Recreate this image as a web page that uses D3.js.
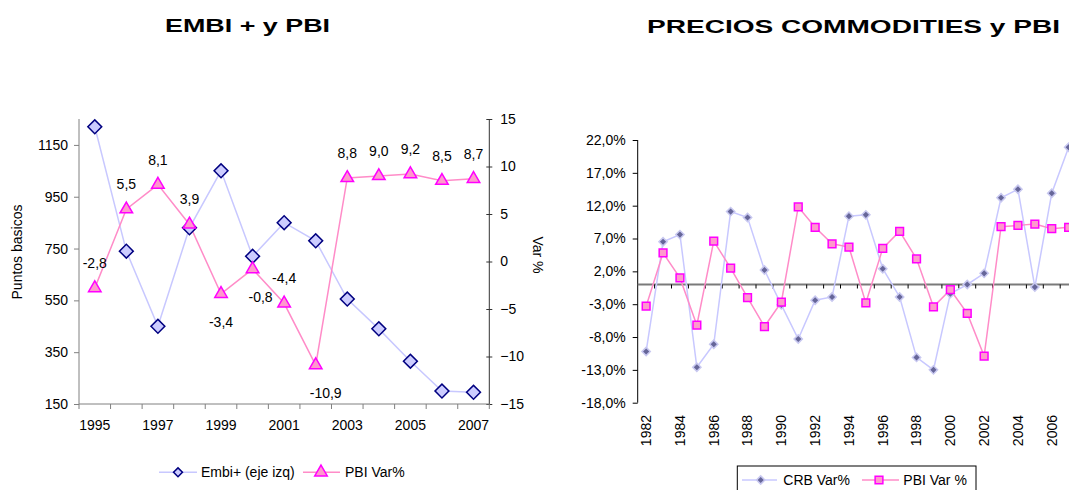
<!DOCTYPE html>
<html>
<head>
<meta charset="utf-8">
<script src="https://cdn.jsdelivr.net/npm/d3@7"></script>
<style>
  body { margin: 0; background: #fff; }
  svg { font-family: Arial, "Liberation Sans", sans-serif; }
</style>
</head>
<body>
<div class="chart"></div>
<script>
// ---- data: EMBI + y PBI ----
const embiYears = [1995, 1996, 1997, 1998, 1999, 2000, 2001, 2002, 2003, 2004, 2005, 2006, 2007];
const embiValues = [1220, 740, 450, 830, 1050, 720, 850, 780, 555, 440, 315, 200, 195];
const pbiLeft = [-2.8, 5.5, 8.1, 3.9, -3.4, -0.8, -4.4, -10.9, 8.8, 9.0, 9.2, 8.5, 8.7];
const embiTicks = [150, 350, 550, 750, 950, 1150];
const varTicks = [-15, -10, -5, 0, 5, 10, 15];
const embiYearLabels = [1995, 1997, 1999, 2001, 2003, 2005, 2007];

// ---- data: PRECIOS COMMODITIES y PBI ----
const crbYears = [1982, 1983, 1984, 1985, 1986, 1987, 1988, 1989, 1990, 1991, 1992, 1993, 1994,
                  1995, 1996, 1997, 1998, 1999, 2000, 2001, 2002, 2003, 2004, 2005, 2006, 2007];
const crbValues = [-10.2, 6.5, 7.6, -12.6, -9.1, 11.1, 10.2, 2.2, -3.1, -8.3, -2.4, -1.9, 10.4,
                   10.6, 2.4, -1.9, -11.1, -13.0, -1.4, 0.0, 1.7, 13.2, 14.5, -0.4, 13.9, 20.9];
const pbiRight = [-3.3, 4.8, 1.0, -6.2, 6.6, 2.5, -2.0, -6.4, -2.7, 11.8, 8.7, 6.2, 5.7,
                  -2.8, 5.5, 8.1, 3.9, -3.4, -0.8, -4.4, -10.9, 8.8, 9.0, 9.2, 8.5, 8.7];
const pctTicks = [-18, -13, -8, -3, 2, 7, 12, 17, 22];
const crbYearLabels = [1982, 1984, 1986, 1988, 1990, 1992, 1994, 1996, 1998, 2000, 2002, 2004, 2006];

// label placement for the left chart (which labels sit under the point)
const labelsBelow = {1999: 0, 2000: 8, 2002: 10};

const svg = d3.select(".chart").append("svg")
    .attr("width", 1069)
    .attr("height", 490);

const comma = v => v.toFixed(1).replace(".", ",");
const diamond = d3.symbol().type(d3.symbolSquare);
const triangle = d3.symbol().type(d3.symbolTriangle).size(68);
const square = d3.symbol().type(d3.symbolSquare).size(60);

// ================= LEFT CHART =================
svg.append("text")
    .text("EMBI + y PBI")
    .attr("x", 165).attr("y", 32)
    .attr("textLength", 165)
    .attr("lengthAdjust", "spacingAndGlyphs")
    .attr("font-size", 18)
    .attr("font-weight", "bold");

const xL = d3.scaleBand().domain(embiYears).range([79, 489.3]).padding(0);
const yL = d3.scaleLinear().domain([150, 1250]).range([404, 119]);
const yR = d3.scaleLinear().domain([-15, 15]).range([404, 119]);

// left axis
const gLeft = svg.append("g")
    .attr("transform", "translate(79,0)")
    .call(d3.axisLeft(yL).tickValues(embiTicks).tickSize(5).tickPadding(6).tickFormat(d3.format("d")));
gLeft.select(".domain").remove();
gLeft.append("line").attr("y1", 119).attr("y2", 404).attr("stroke", "#808080");
gLeft.selectAll(".tick line").attr("stroke", "#808080");

// right axis
const gRight = svg.append("g")
    .attr("transform", "translate(489.3,0)")
    .call(d3.axisRight(yR).tickValues(varTicks).tickSize(3).tickPadding(8));
gRight.select(".domain").remove();
gRight.append("line").attr("y1", 119).attr("y2", 404).attr("stroke", "#333");
gRight.selectAll(".tick line").attr("x1", -3).attr("stroke", "#333");

// bottom axis
const gBottom = svg.append("g")
    .attr("transform", "translate(0,404)")
    .call(d3.axisBottom(xL).tickValues(embiYearLabels).tickSize(0).tickPadding(16));
gBottom.select(".domain").remove();
gBottom.append("line").attr("x1", 79).attr("x2", 489.3).attr("stroke", "#808080");
gBottom.selectAll(".btick")
    .data(embiYears.concat(["end"]))
    .enter().append("line")
    .attr("class", "btick")
    .attr("x1", (d, i) => xL.range()[0] + i * xL.bandwidth())
    .attr("x2", (d, i) => xL.range()[0] + i * xL.bandwidth())
    .attr("y1", 0).attr("y2", 5)
    .attr("stroke", "#808080");

[gLeft, gRight, gBottom].forEach(g => {
    g.attr("font-family", null).attr("font-size", 14);
    g.selectAll("text").attr("fill", "#000");
});

// axis titles
svg.append("text")
    .text("Puntos basicos")
    .attr("transform", "translate(22,252) rotate(-90)")
    .attr("text-anchor", "middle")
    .attr("font-size", 14);
svg.append("text")
    .text("Var %")
    .attr("transform", "translate(533,255) rotate(90)")
    .attr("text-anchor", "middle")
    .attr("font-size", 14);

const cxL = d => xL(d) + xL.bandwidth() / 2;

// Embi line
svg.append("path")
    .datum(embiYears)
    .attr("fill", "none")
    .attr("stroke", "#c8c8ff")
    .attr("stroke-width", 1.5)
    .attr("d", d3.line().x(d => cxL(d)).y((d, i) => yL(embiValues[i])));

// PBI line
svg.append("path")
    .datum(embiYears)
    .attr("fill", "none")
    .attr("stroke", "#ff8cc8")
    .attr("stroke-width", 1.5)
    .attr("d", d3.line().x(d => cxL(d)).y((d, i) => yR(pbiLeft[i])));

svg.selectAll(".embi")
    .data(embiYears)
    .enter().append("path")
    .attr("class", "embi")
    .attr("d", diamond.size(96))
    .attr("transform", (d, i) => `translate(${cxL(d)},${yL(embiValues[i])}) rotate(45)`)
    .attr("fill", "#ccccff")
    .attr("stroke", "#000080")
    .attr("stroke-width", 1.5);

svg.selectAll(".pbiL")
    .data(embiYears)
    .enter().append("path")
    .attr("class", "pbiL")
    .attr("d", triangle)
    .attr("transform", (d, i) => `translate(${cxL(d)},${yR(pbiLeft[i])})`)
    .attr("fill", "#ff99cc")
    .attr("stroke", "#ff00ff")
    .attr("stroke-width", 1.5);

svg.selectAll(".pbiLabel")
    .data(embiYears)
    .enter().append("text")
    .attr("class", "pbiLabel")
    .text((d, i) => comma(pbiLeft[i]))
    .attr("x", d => cxL(d) + (d in labelsBelow ? labelsBelow[d] : 0))
    .attr("y", (d, i) => yR(pbiLeft[i]) + (d in labelsBelow ? 33 : -20))
    .attr("text-anchor", "middle")
    .attr("font-size", 14);

// left legend
const legL = svg.append("g").attr("font-size", 14);
legL.append("line").attr("x1", 159).attr("x2", 197).attr("y1", 472.3).attr("y2", 472.3)
    .attr("stroke", "#c8c8ff").attr("stroke-width", 1.5);
legL.append("path").attr("d", diamond.size(40))
    .attr("transform", "translate(178,472.3) rotate(45)")
    .attr("fill", "#ccccff").attr("stroke", "#000080").attr("stroke-width", 1.5);
legL.append("text").text("Embi+ (eje izq)").attr("x", 201).attr("y", 477);
legL.append("line").attr("x1", 303).attr("x2", 340).attr("y1", 472.3).attr("y2", 472.3)
    .attr("stroke", "#ff8cc8").attr("stroke-width", 1.5);
legL.append("path").attr("d", triangle)
    .attr("transform", "translate(321,472.3)")
    .attr("fill", "#ff99cc").attr("stroke", "#ff00ff").attr("stroke-width", 1.5);
legL.append("text").text("PBI Var%").attr("x", 345).attr("y", 477);

// ================= RIGHT CHART =================
svg.append("text")
    .text("PRECIOS COMMODITIES y PBI")
    .attr("x", 647).attr("y", 33)
    .attr("textLength", 413)
    .attr("lengthAdjust", "spacingAndGlyphs")
    .attr("font-size", 18)
    .attr("font-weight", "bold");

const x2 = d3.scaleBand().domain(crbYears).range([637.7, 637.7 + 26 * 16.9]).padding(0);
const y2 = d3.scaleLinear().domain([-18, 22]).range([402.7, 140]);
const cx2 = d => x2(d) + x2.bandwidth() / 2;

const gY2 = svg.append("g")
    .attr("transform", "translate(637.7,0)")
    .call(d3.axisLeft(y2).tickValues(pctTicks).tickSize(5).tickPadding(7)
        .tickFormat(d => comma(d) + "%"));
gY2.select(".domain").remove();
gY2.append("line").attr("y1", 140).attr("y2", 402.7).attr("stroke", "#000");
gY2.selectAll(".tick line").attr("stroke", "#000");

// zero line with category ticks
const y0 = y2(0);
svg.append("line")
    .attr("x1", 637.7).attr("x2", 1069)
    .attr("y1", y0).attr("y2", y0)
    .attr("stroke", "#7a7a7a").attr("stroke-width", 2);
svg.selectAll(".xtick2")
    .data(crbYears)
    .enter().append("line")
    .attr("class", "xtick2")
    .attr("x1", (d, i) => x2.range()[0] + (i + 1) * x2.bandwidth())
    .attr("x2", (d, i) => x2.range()[0] + (i + 1) * x2.bandwidth())
    .attr("y1", y0).attr("y2", y0 + 4)
    .attr("stroke", "#000");

// rotated year labels
const gX2 = svg.append("g")
    .attr("transform", "translate(0,415)")
    .call(d3.axisBottom(x2).tickValues(crbYearLabels).tickSize(0));
gX2.select(".domain").remove();
gX2.selectAll("text")
    .attr("y", 0)
    .attr("dy", "0.35em")
    .attr("transform", "rotate(-90)")
    .attr("text-anchor", "end");

[gY2, gX2].forEach(g => {
    g.attr("font-family", null).attr("font-size", 14);
    g.selectAll("text").attr("fill", "#000");
});

// CRB line + markers
svg.append("path")
    .datum(crbYears)
    .attr("fill", "none")
    .attr("stroke", "#c8c8ff")
    .attr("stroke-width", 1.5)
    .attr("d", d3.line().x(d => cx2(d)).y((d, i) => y2(crbValues[i])));

svg.append("path")
    .datum(crbYears)
    .attr("fill", "none")
    .attr("stroke", "#ff8cc8")
    .attr("stroke-width", 1.5)
    .attr("d", d3.line().x(d => cx2(d)).y((d, i) => y2(pbiRight[i])));

svg.selectAll(".crb")
    .data(crbYears)
    .enter().append("path")
    .attr("class", "crb")
    .attr("d", diamond.size(34))
    .attr("transform", (d, i) => `translate(${cx2(d)},${y2(crbValues[i])}) rotate(45)`)
    .attr("fill", "#666699")
    .attr("stroke", "#c8c8f0")
    .attr("stroke-width", 1.5);

svg.selectAll(".pbiR")
    .data(crbYears)
    .enter().append("path")
    .attr("class", "pbiR")
    .attr("d", square)
    .attr("transform", (d, i) => `translate(${cx2(d)},${y2(pbiRight[i])})`)
    .attr("fill", "#ff99cc")
    .attr("stroke", "#ff00ff")
    .attr("stroke-width", 1.5);

// right legend
const legR = svg.append("g").attr("font-size", 14);
legR.append("rect").attr("x", 737.3).attr("y", 466).attr("width", 238.7).attr("height", 40)
    .attr("fill", "#fff").attr("stroke", "#000");
legR.append("line").attr("x1", 742).attr("x2", 777).attr("y1", 480).attr("y2", 480)
    .attr("stroke", "#c8c8ff").attr("stroke-width", 1.5);
legR.append("path").attr("d", diamond.size(34))
    .attr("transform", "translate(760.7,480) rotate(45)")
    .attr("fill", "#666699").attr("stroke", "#c8c8f0").attr("stroke-width", 1.5);
legR.append("text").text("CRB Var%").attr("x", 783.3).attr("y", 485);
legR.append("line").attr("x1", 862).attr("x2", 899).attr("y1", 480).attr("y2", 480)
    .attr("stroke", "#ff8cc8").attr("stroke-width", 1.5);
legR.append("path").attr("d", square)
    .attr("transform", "translate(879,480)")
    .attr("fill", "#ff99cc").attr("stroke", "#ff00ff").attr("stroke-width", 1.5);
legR.append("text").text("PBI Var %").attr("x", 903.3).attr("y", 485);
</script>
</body>
</html>
